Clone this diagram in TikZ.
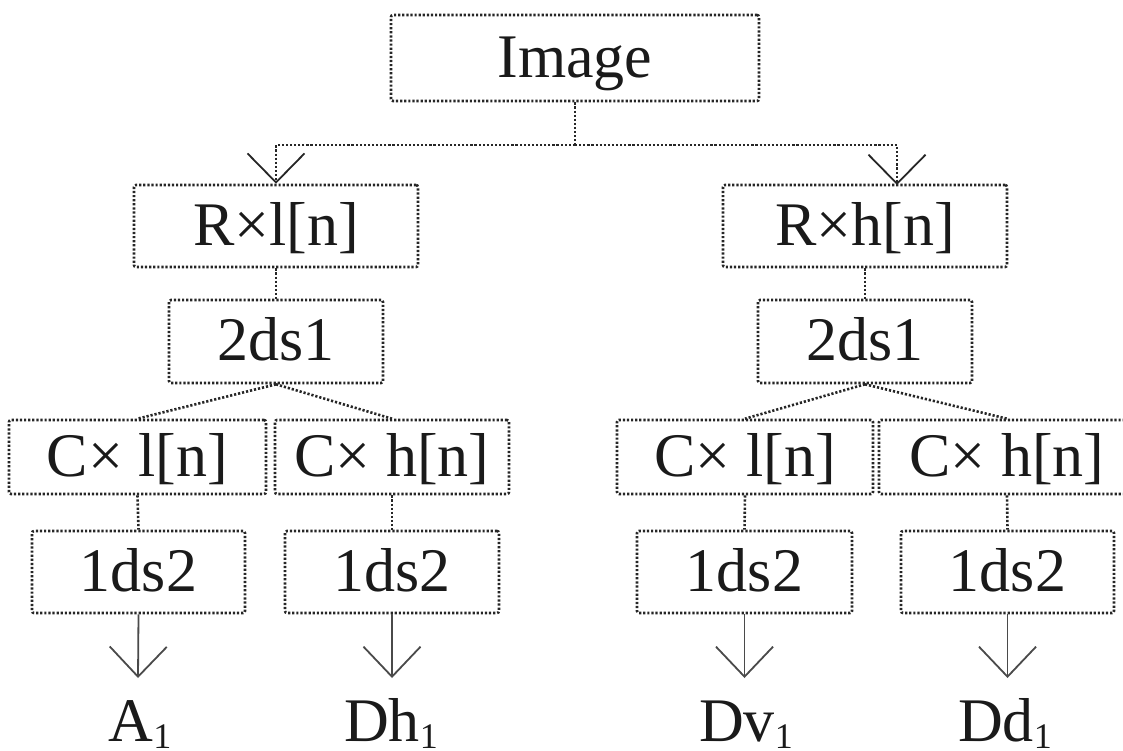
\documentclass[tikz,border=0pt]{standalone}
\usepackage{fontspec}
\setmainfont{Liberation Serif}
\usetikzlibrary{arrows.meta}
\definecolor{dotc}{HTML}{262626}
\definecolor{arrc}{HTML}{4A4A4A}
\definecolor{txtc}{HTML}{1A1A1A}
\newcommand{\subone}{\raisebox{-7pt}[0pt][0pt]{\fontsize{36pt}{38pt}\selectfont 1}}
\begin{document}
\begin{tikzpicture}[x=1pt,y=-1pt,
  box/.style={draw=dotc, line width=2.6pt, dash pattern=on 2.2pt off 1.9pt,
    rounded corners=2pt, inner sep=0pt, text=txtc,
    font=\fontsize{62pt}{70pt}\selectfont, text height=42pt, text depth=4pt},
  dline/.style={draw=dotc, line width=2.6pt, dash pattern=on 2.2pt off 1.9pt},
  vtip/.style={-{Straight Barb[length=29pt,width=57pt,line width=1.8pt]}},
  solidarr/.style={draw=arrc, line width=1.8pt, -{Straight Barb[length=30pt,width=57pt]}},
  lbl/.style={text=txtc, font=\fontsize{62pt}{70pt}\selectfont, inner sep=0pt,
    anchor=base, text height=42pt, text depth=0pt}
]
\useasboundingbox (0,0) rectangle (1123,750);
\clip (0,0) rectangle (1123,750);
% boxes
\node[box, minimum width=368pt, minimum height=86pt] (img) at (575,58) {Image};
\node[box, minimum width=284pt, minimum height=82pt] (Rl) at (276,226) {R×l[n]};
\node[box, minimum width=284pt, minimum height=82pt] (Rh) at (865,226) {R×h[n]};
\node[box, minimum width=214pt, minimum height=83pt] (dl) at (276,341.5) {2ds1};
\node[box, minimum width=214pt, minimum height=83pt] (dr) at (865,341.5) {2ds1};
\node[box, minimum width=257pt, minimum height=74pt] (cll) at (137.5,457) {C× l[n]};
\node[box, minimum width=234pt, minimum height=74pt] (clh) at (392,457) {C× h[n]};
\node[box, minimum width=256pt, minimum height=74pt] (crl) at (745,457) {C× l[n]};
\node[box, minimum width=256pt, minimum height=74pt] (crh) at (1007,457) {C× h[n]};
\node[box, minimum width=213pt, minimum height=82pt] (ell) at (138.5,572) {1ds2};
\node[box, minimum width=214pt, minimum height=82pt] (elh) at (392,572) {1ds2};
\node[box, minimum width=215pt, minimum height=82pt] (erl) at (744.5,572) {1ds2};
\node[box, minimum width=213pt, minimum height=82pt] (erh) at (1007.5,572) {1ds2};
% labels
\node[lbl] (A1) at (140,741) {A\subone};
\node[lbl] (Dh1) at (391,741) {Dh\subone};
\node[lbl] (Dv1) at (746,741) {Dv\subone};
\node[lbl] (Dd1) at (1005,741) {Dd\subone};
% top connectors
\coordinate (jn) at (575,145);
\coordinate (rhin) at (897,185);
\draw[dline] (img.south) -- (jn);
\draw[dline, vtip] (jn) -| (Rl.north);
\draw[dline, vtip] (jn) -| (rhin);
% vertical dotted
\draw[dline] (Rl.south) -- (dl.north);
\draw[dline] (Rh.south) -- (dr.north);
\draw[dline] (dl.south) -- (cll.north);
\draw[dline] (dl.south) -- (clh.north);
\draw[dline] (dr.south) -- (crl.north);
\draw[dline] (dr.south) -- (crh.north);
\draw[dline] (cll.south) -- (ell.north);
\draw[dline] (clh.south) -- (elh.north);
\draw[dline] (crl.south) -- (erl.north);
\draw[dline] (crh.south) -- (erh.north);
% bottom arrows
\coordinate (t1) at (138,678);
\coordinate (t2) at (392,678);
\coordinate (t3) at (744.5,678);
\coordinate (t4) at (1007.5,678);
\draw[solidarr] (ell.south) -- (t1);
\draw[solidarr] (elh.south) -- (t2);
\draw[solidarr] (erl.south) -- (t3);
\draw[solidarr] (erh.south) -- (t4);
\end{tikzpicture}
\end{document}
